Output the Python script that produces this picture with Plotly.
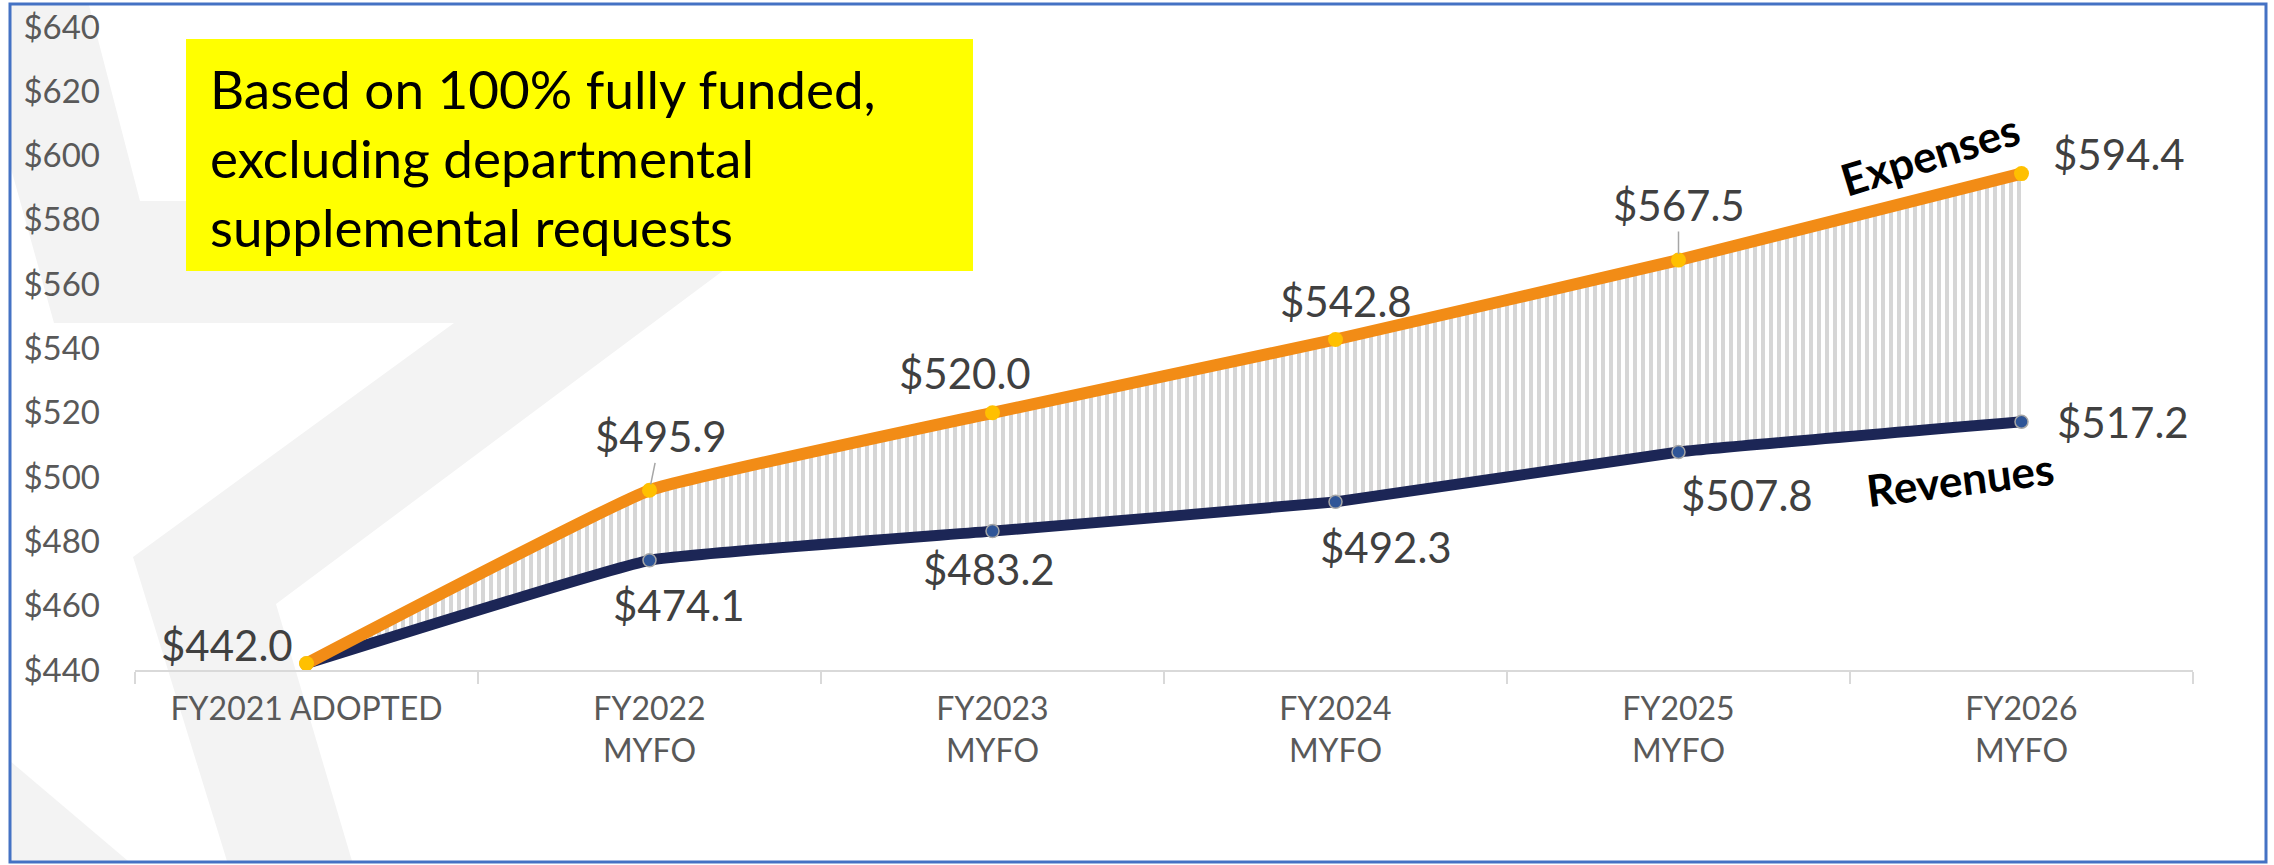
import plotly.graph_objects as go

# ---------------- data ----------------
categories = ["FY2021 ADOPTED", "FY2022<br>MYFO", "FY2023<br>MYFO",
              "FY2024<br>MYFO", "FY2025<br>MYFO", "FY2026<br>MYFO"]
expenses = [442.0, 495.9, 520.0, 542.8, 567.5, 594.4]
revenues = [442.0, 474.1, 483.2, 492.3, 507.8, 517.2]
y_ticks = [440, 460, 480, 500, 520, 540, 560, 580, 600, 620, 640]
y_tick_text = ["$" + str(v) for v in y_ticks]
note_text = "Based on 100% fully funded,<br>excluding departmental<br>supplemental requests"

# ---------------- style ----------------
W, H = 2274, 865
ML, MR, MT, MB = 135, 81, 27, 195
PW, PH = W - ML - MR, H - MT - MB
FONT = "Lato"
ORANGE = "#F28C16"
GOLD = "#FFC000"
NAVY = "#1C2656"
BLUE_MK = "#2F5597"
LABEL_C = "#404040"
TICK_C = "#595959"
SMOOTH = 0.3


def px2paper(px, py):
    return (px - ML) / PW, (H - MB - py) / PH


def poly_path(points):
    pts = [px2paper(x, y) for x, y in points]
    return "M " + " L ".join(f"{x:.5f},{y:.5f}" for x, y in pts) + " Z"


fig = go.Figure()

# fill base (invisible) + hatched band between lines
fig.add_trace(go.Scatter(x=categories, y=revenues, mode="lines",
                         line=dict(width=0, shape="spline", smoothing=SMOOTH),
                         hoverinfo="skip", showlegend=False))
fig.add_trace(go.Scatter(x=categories, y=expenses, mode="lines", fill="tonexty",
                         fillcolor="rgba(0,0,0,0)",
                         fillpattern=dict(shape="|", size=8, solidity=0.5,
                                          fgcolor="#D6D6D6", bgcolor="white",
                                          fillmode="replace"),
                         line=dict(width=0, shape="spline", smoothing=SMOOTH),
                         hoverinfo="skip", showlegend=False))
# visible lines
fig.add_trace(go.Scatter(x=categories, y=revenues, mode="lines+markers", name="Revenues",
                         line=dict(color=NAVY, width=11, shape="spline", smoothing=SMOOTH),
                         marker=dict(color=BLUE_MK, size=13,
                                     line=dict(color="#A6A6A6", width=1.5)),
                         showlegend=False))
fig.add_trace(go.Scatter(x=categories, y=expenses, mode="lines+markers", name="Expenses",
                         line=dict(color=ORANGE, width=12, shape="spline", smoothing=SMOOTH),
                         marker=dict(color=GOLD, size=15, line=dict(width=0)),
                         showlegend=False))

annotations = []
lab_font = dict(family=FONT, size=42, color=LABEL_C)

# expense labels: (xanchor, xshift, yshift, arrow)
exp_style = [("right", -12, 19, None), ("center", 0, 0, (11, -54)),
             ("center", -28, 40, None), ("center", 10, 39, None),
             ("center", 0, 0, (0, -55)), ("left", 29, 20, None)]
for i, (c, v) in enumerate(zip(categories, expenses)):
    xa, xs, ys, arr = exp_style[i]
    if arr is None:
        annotations.append(dict(x=c, y=v, xref="x", yref="y", text=f"${v:.1f}",
                                showarrow=False, xanchor=xa, yanchor="middle",
                                xshift=xs, yshift=ys, font=lab_font))
    else:
        annotations.append(dict(x=c, y=v, xref="x", yref="y", text=f"${v:.1f}",
                                showarrow=True, ax=arr[0], ay=arr[1], arrowhead=0,
                                arrowwidth=1.5, arrowcolor="#A6A6A6", standoff=6,
                                font=lab_font))

rev_style = [None, ("center", 29, -45), ("center", -4, -38), ("center", 50, -45),
             ("center", 68, -43), ("left", 33, 0)]
for i, (c, v) in enumerate(zip(categories, revenues)):
    if rev_style[i] is None:
        continue
    xa, xs, ys = rev_style[i]
    annotations.append(dict(x=c, y=v, xref="x", yref="y", text=f"${v:.1f}",
                            showarrow=False, xanchor=xa, yanchor="middle",
                            xshift=xs, yshift=ys, font=lab_font))

# series name labels
annotations.append(dict(x=categories[-1], y=expenses[-1], xref="x", yref="y",
                        text="<b>Expenses</b>", showarrow=False, textangle=-17,
                        xshift=-92, yshift=20,
                        font=dict(family=FONT, size=44, color="black")))
annotations.append(dict(x=categories[-1], y=revenues[-1], xref="x", yref="y",
                        text="<b>Revenues</b>", showarrow=False, textangle=-7,
                        xshift=-62, yshift=-57,
                        font=dict(family=FONT, size=44, color="black")))

# note text
nx, ny = px2paper(208, 157)
annotations.append(dict(x=nx, y=ny, xref="paper", yref="paper", text=note_text,
                        showarrow=False, xanchor="left", yanchor="middle", align="left",
                        font=dict(family=FONT, size=53, color="black")))

shapes = []
WM = "#F3F3F3"
# faint watermark star pieces
for pts in [
    [(10, 5), (89, 5), (140, 201), (800, 201), (724, 270), (276, 604),
     (352, 861), (227, 861), (133, 557), (454, 323), (54, 323), (10, 165)],
    [(10, 761), (128, 861), (10, 861)],
]:
    shapes.append(dict(type="path", xref="paper", yref="paper", path=poly_path(pts),
                       fillcolor=WM, line=dict(width=0), layer="below"))

# yellow note box
bx0, by0 = px2paper(186, 271)
bx1, by1 = px2paper(973, 39)
shapes.append(dict(type="rect", xref="paper", yref="paper", x0=bx0, y0=by0, x1=bx1, y1=by1,
                   fillcolor="#FFFF00", line=dict(width=0), layer="below"))

# outer blue border
fx0, fy0 = px2paper(10, 862)
fx1, fy1 = px2paper(2266, 4)
shapes.append(dict(type="rect", xref="paper", yref="paper", x0=fx0, y0=fy0, x1=fx1, y1=fy1,
                   fillcolor="rgba(0,0,0,0)", line=dict(color="#4472C4", width=3),
                   layer="above"))

fig.update_layout(
    width=W, height=H,
    margin=dict(l=ML, r=MR, t=MT, b=MB, pad=0, autoexpand=False),
    paper_bgcolor="white", plot_bgcolor="rgba(0,0,0,0)",
    font=dict(family=FONT, color=TICK_C),
    showlegend=False,
    annotations=annotations,
    shapes=shapes,
    xaxis=dict(type="category", range=[-0.5, 5.5], showgrid=False, zeroline=False,
               showline=True, linecolor="#D9D9D9", linewidth=2,
               ticks="outside", tickson="boundaries", ticklen=12, tickwidth=2,
               tickcolor="#D9D9D9", tickfont=dict(family=FONT, size=32, color=TICK_C),
               ticklabelstandoff=10, automargin=False, fixedrange=True),
    yaxis=dict(range=[440, 640], tickvals=y_ticks, ticktext=y_tick_text, showgrid=False,
               zeroline=False, showline=False, ticks="",
               tickfont=dict(family=FONT, size=33, color=TICK_C),
               ticklabelstandoff=34, automargin=False, fixedrange=True),
)

fig.write_html("out.html",
               config={"displayModeBar": False},
               post_script="document.body.style.margin='0px';"
                           "document.body.style.overflow='hidden';")
